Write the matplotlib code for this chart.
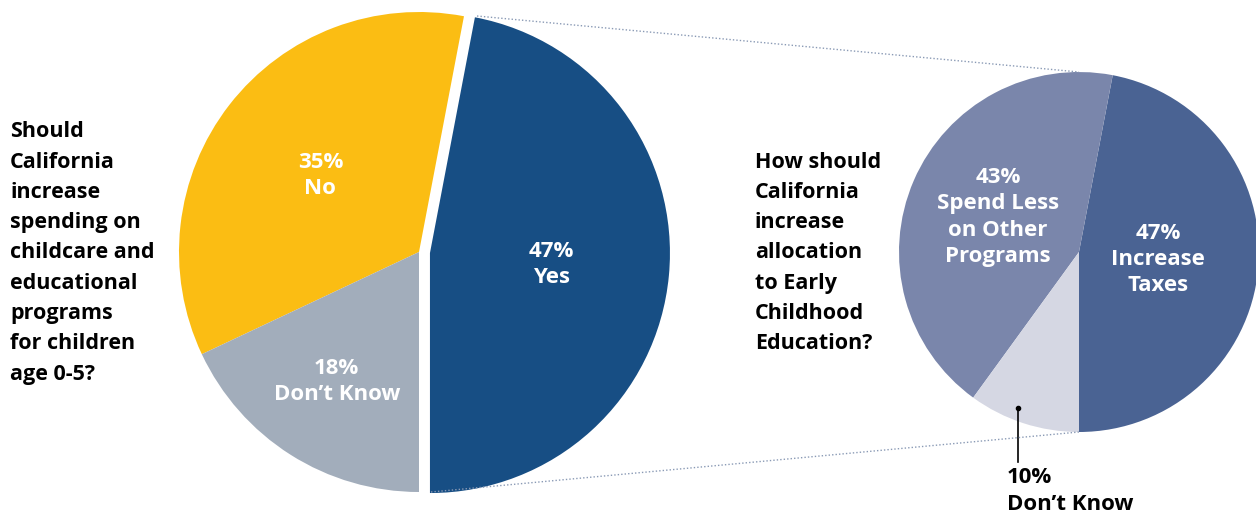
import numpy as np
import matplotlib
matplotlib.use("Agg")
import matplotlib.pyplot as plt

# ==========================================
# Data
# ==========================================
q1_labels = ["Yes", "No", "Don\u2019t Know"]
q1_values = [47, 35, 18]
q1_colors = ["#174e84", "#fbbd13", "#a2adbb"]

q2_labels = ["Increase\nTaxes", "Spend Less\non Other\nPrograms", "Don\u2019t Know"]
q2_values = [47, 43, 10]
q2_colors = ["#4a6393", "#7a86ab", "#d5d7e3"]

q1_title = "Should\nCalifornia\nincrease\nspending on\nchildcare and\neducational\nprograms\nfor children\nage 0-5?"
q2_title = "How should\nCalifornia\nincrease\nallocation\nto Early\nChildhood\nEducation?"

plt.rcParams['font.family'] = ['Open Sans', 'DejaVu Sans']

W, H = 1256, 517
fig = plt.figure(figsize=(W / 100, H / 100), dpi=100)
ax = fig.add_axes([0, 0, 1, 1])

# pixel-like coordinates, y up
def py(y):
    return H - y

c1 = (419, py(252))
r1 = 240
c2 = (1079, py(252))
r2 = 180

w1, _ = ax.pie(q1_values, colors=q1_colors, startangle=-90, counterclock=True,
               center=c1, radius=r1, explode=[11, 0, 0],
               wedgeprops=dict(linewidth=0))
w2, _ = ax.pie(q2_values, colors=q2_colors, startangle=-90, counterclock=True,
               center=c2, radius=r2, wedgeprops=dict(linewidth=0))

ax.set_xlim(0, W)
ax.set_ylim(0, H)
ax.set_aspect('equal')
ax.axis('off')

# ==========================================
# Slice labels (placed along wedge mid-angle)
# ==========================================
def place(w, frac, text, **kw):
    mid = np.deg2rad((w.theta1 + w.theta2) / 2)
    cx, cy = w.center
    ax.text(cx + w.r * frac * np.cos(mid), cy + w.r * frac * np.sin(mid), text,
            ha='center', va='center', color='white', fontsize=16,
            fontweight='bold', linespacing=1.33, **kw)

place(w1[0], 0.51, f"{q1_values[0]}%\n{q1_labels[0]}")
place(w1[1], 0.52, f"{q1_values[1]}%\n{q1_labels[1]}")
place(w1[2], 0.64, f"{q1_values[2]}%\n{q1_labels[2]}")
place(w2[0], 0.44, f"{q2_values[0]}%\n{q2_labels[0]}")
place(w2[1], 0.49, f"{q2_values[1]}%\n{q2_labels[1]}")

# small "Don't Know" callout
ax.plot([1018, 1018], [py(408), py(462)], color='black', lw=1.2)
ax.plot(1018, py(408), 'o', color='black', ms=3)
ax.text(1007, py(467), f"{q2_values[2]}%\n{q2_labels[2]}", ha='left', va='top',
        fontsize=16, fontweight='bold', color='black', linespacing=1.4)

# connector lines between the two pies
ax.plot([477, 1079], [py(16), py(72)], color='#8a9ab5', lw=1, ls=(0, (1, 1.5)))
ax.plot([431, 1079], [py(492), py(432)], color='#8a9ab5', lw=1, ls=(0, (1, 1.5)))

# question texts
ax.text(10, py(253), q1_title, ha='left', va='center', fontsize=15.5,
        fontweight='bold', color='black', linespacing=1.58)
ax.text(755, py(253), q2_title, ha='left', va='center', fontsize=15.5,
        fontweight='bold', color='black', linespacing=1.58)

fig.savefig("out.png", dpi=100)
